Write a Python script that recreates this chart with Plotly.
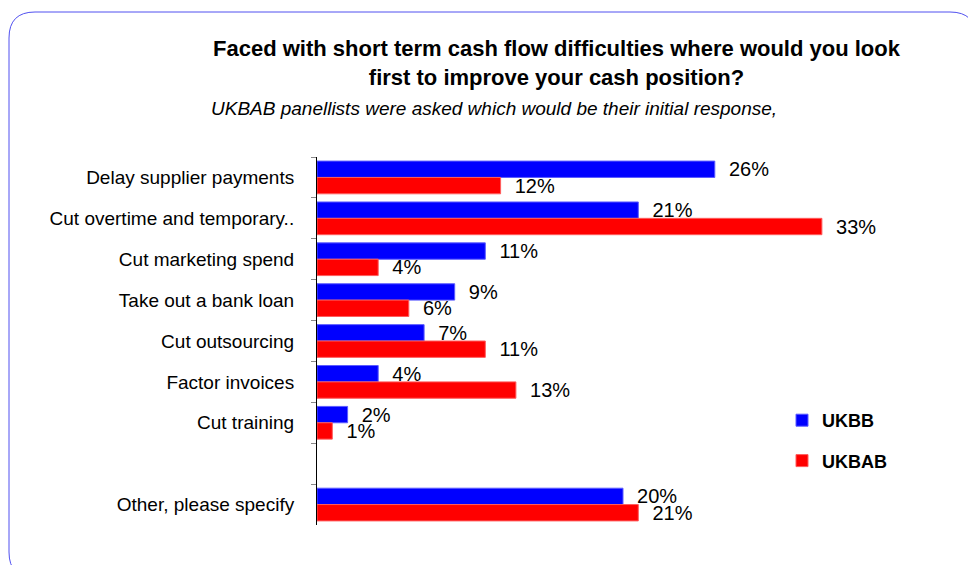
import plotly.graph_objects as go

# Survey responses (% of panellists)
categories = [
    "Delay supplier payments",
    "Cut overtime and temporary..",
    "Cut marketing spend",
    "Take out a bank loan",
    "Cut outsourcing",
    "Factor invoices",
    "Cut training",
    " ",
    "Other, please specify",
]
ukbb = [26, 21, 11, 9, 7, 4, 2, None, 20]
ukbab = [12, 33, 4, 6, 11, 13, 1, None, 21]

title_lines = [
    "Faced with short term cash flow difficulties where would you look",
    "first to improve your cash position?",
]
subtitle = "UKBAB panellists were asked which would be their initial response,"

W, H = 968, 565
L, R, T, B = 317, 39, 157, 40
PW, PH = W - L - R, H - T - B


def px(x):
    return (x - L) / PW


def py(y):
    return (H - B - y) / PH


FONT = "Liberation Sans, Arial, sans-serif"

fig = go.Figure()
for name, vals, color, edge in [
    ("UKBB", ukbb, "#0000FF", "#5C5CFF"),
    ("UKBAB", ukbab, "#FF0000", "#FF5C5C"),
]:
    fig.add_trace(go.Bar(
        name=name,
        legendgroup=name,
        y=categories,
        x=vals,
        orientation="h",
        marker=dict(color=color, line=dict(color=edge, width=1)),
        text=[f"{v}%" if v is not None else "" for v in vals],
        texttemplate="  %{text}",
        textposition="outside",
        constraintext="none",
        cliponaxis=False,
        textfont=dict(family=FONT, size=20, color="#000000"),
        hoverinfo="skip",
    ))

# rounded frame around the whole chart
x0, x1 = 9, 976
y0, y1 = 12, 578
r = 26
path = (
    f"M {px(x0)} {py(y1 - r)} "
    f"L {px(x0)} {py(y0 + r)} "
    f"Q {px(x0)} {py(y0)} {px(x0 + r)} {py(y0)} "
    f"L {px(x1 - r)} {py(y0)} "
    f"Q {px(x1)} {py(y0)} {px(x1)} {py(y0 + r)} "
    f"L {px(x1)} {py(y1 - r)} "
    f"Q {px(x1)} {py(y1)} {px(x1 - r)} {py(y1)} "
    f"L {px(x0 + r)} {py(y1)} "
    f"Q {px(x0)} {py(y1)} {px(x0)} {py(y1 - r)} Z"
)

annotations = [
    dict(text="<b>" + "<br>".join(title_lines) + "</b>",
         x=px(557), y=py(34), xref="paper", yref="paper",
         xanchor="center", yanchor="top", showarrow=False, align="center",
         font=dict(family=FONT, size=22, color="#000000")),
    dict(text="<i>" + subtitle + "</i>",
         x=px(494), y=py(108), xref="paper", yref="paper",
         xanchor="center", yanchor="middle", showarrow=False,
         font=dict(family=FONT, size=19, color="#000000")),
]

fig.update_layout(
    width=W, height=H,
    margin=dict(l=L, r=R, t=T, b=B, pad=0),
    paper_bgcolor="white", plot_bgcolor="white",
    barmode="group", bargap=0.2, bargroupgap=0,
    showlegend=True,
    legend=dict(
        x=px(782), y=py(402), xanchor="left", yanchor="top",
        font=dict(family=FONT, size=18, color="#000000", weight="bold"),
        traceorder="grouped", tracegroupgap=14,
        itemwidth=30, bgcolor="rgba(0,0,0,0)",
    ),
    xaxis=dict(range=[0, 40], visible=False, fixedrange=True),
    yaxis=dict(
        type="category", categoryorder="array", categoryarray=categories,
        autorange="reversed",
        showline=True, linecolor="#000000", linewidth=1,
        ticks="outside", ticklen=5, tickcolor="#888888", tickson="boundaries",
        ticklabelstandoff=18,
        tickfont=dict(family=FONT, size=19, color="#000000"),
        showgrid=False, zeroline=False,
    ),
    shapes=[dict(type="path", path=path, xref="paper", yref="paper",
                 line=dict(color="#5050F0", width=1), layer="below")],
    annotations=annotations,
)

fig.write_html("out.html")
